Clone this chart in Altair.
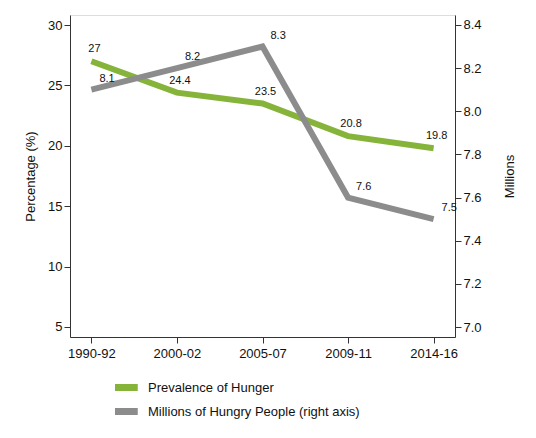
import altair as alt
import pandas as pd

periods = ["1990-92", "2000-02", "2005-07", "2009-11", "2014-16"]
prevalence = [27, 24.4, 23.5, 20.8, 19.8]
millions = [8.1, 8.2, 8.3, 7.6, 7.5]
series_names = ["Prevalence of Hunger", "Millions of Hungry People (right axis)"]

df = pd.DataFrame({"period": periods, "prev": prevalence, "mil": millions})

FONT = "Liberation Sans"
GREEN = "#86b43a"
GRAY = "#8c8c8c"

color_scale = alt.Scale(domain=series_names, range=[GREEN, GRAY])
legend = alt.Legend(orient="none", legendX=45, legendY=365,
                    symbolType="M-2.5,0L2.5,0", symbolSize=121,
                    symbolStrokeWidth=7, labelFontSize=13, clipHeight=15,
                    labelFont=FONT, labelColor="#111", rowPadding=9,
                    labelOffset=15, labelLimit=0, title=None)
x_enc = alt.X("period:N", sort=periods, title=None,
              scale=alt.Scale(type="point", padding=0.25),
              axis=alt.Axis(labelAngle=0, labelFontSize=13, tickSize=6,
                            labelPadding=4, domainColor="#333", tickColor="#333",
                            labelColor="#111"))

left_axis = alt.Axis(title="Percentage (%)", values=[5, 10, 15, 20, 25, 30],
                     titleFontSize=13, titleFontWeight="normal", labelFontSize=13,
                     tickSize=6, grid=False, domainColor="#333", tickColor="#333",
                     labelColor="#111", titleColor="#111", titlePadding=10)
right_axis = alt.Axis(title="Millions", orient="right", titleAngle=270,
                      values=[7.0, 7.2, 7.4, 7.6, 7.8, 8.0, 8.2, 8.4], format=".1f",
                      titleFontSize=13, titleFontWeight="normal", labelFontSize=13,
                      tickSize=6, grid=False, domainColor="#333", tickColor="#333",
                      labelColor="#111", titleColor="#111", titlePadding=35)

y_left = alt.Scale(domain=[4.17, 30.83], nice=False, zero=False)
y_right = alt.Scale(domain=[6.954, 8.446], nice=False, zero=False)

base = alt.Chart(df)

green_line = base.mark_line(strokeWidth=6, strokeJoin="miter").encode(
    x=x_enc,
    y=alt.Y("prev:Q", scale=y_left, axis=left_axis),
    color=alt.Color("s:N", scale=color_scale, legend=legend),
).transform_calculate(s=f"'{series_names[0]}'")
green_text = base.mark_text(fontSize=11, font=FONT, dx=3, dy=-12, color="#111").encode(
    x=x_enc,
    y=alt.Y("prev:Q", scale=y_left, axis=left_axis),
    text=alt.Text("prev:Q"),
)
gray_line = base.mark_line(strokeWidth=6, strokeJoin="miter").encode(
    x=x_enc,
    y=alt.Y("mil:Q", scale=y_right, axis=right_axis),
    color=alt.Color("s:N", scale=color_scale, legend=legend),
).transform_calculate(s=f"'{series_names[1]}'")
gray_text = base.mark_text(fontSize=11, font=FONT, dx=8, dy=-11, align="left", color="#111").encode(
    x=x_enc,
    y=alt.Y("mil:Q", scale=y_right, axis=right_axis),
    text=alt.Text("mil:Q", format=".1f"),
)

chart = alt.layer(
    alt.layer(green_line, green_text),
    alt.layer(gray_line, gray_text),
).resolve_scale(y="independent", color="shared").properties(
    width=385, height=322
).configure_axis(
    labelFont=FONT, titleFont=FONT,
).configure_view(stroke=None).configure(
    padding={"left": 16, "top": 7, "right": 5, "bottom": 5}
)

chart.save("out.html", embed_options={"renderer": "svg", "actions": False})
